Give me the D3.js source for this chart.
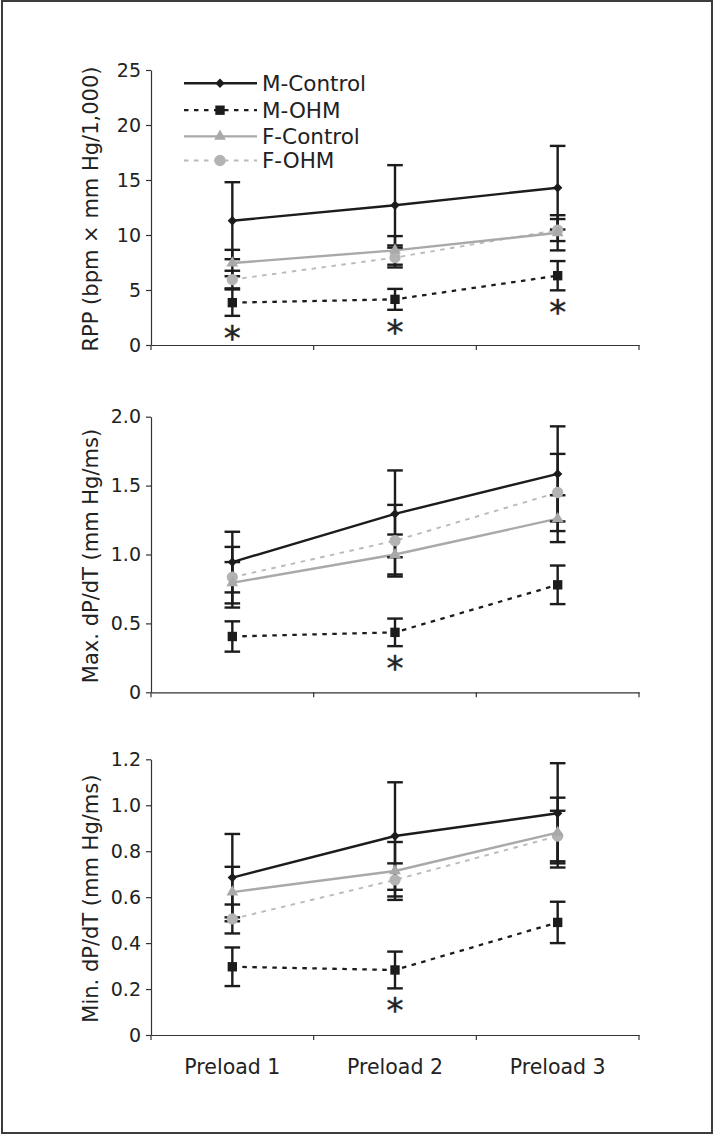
<!DOCTYPE html>
<html><head><meta charset="utf-8">
<script src="https://cdn.jsdelivr.net/npm/d3@7"></script>
<style>html,body{margin:0;padding:0;background:#fff}svg{display:block}</style>
</head><body>
<svg id="chart" width="714" height="1135"></svg>
<script>
// ---------------- DATA ----------------
const categories = ["Preload 1", "Preload 2", "Preload 3"];
const seriesNames = ["M-Control", "M-OHM", "F-Control", "F-OHM"];

// Panel 1: RPP (bpm x mm Hg/1,000)
const rppMControl = [11.3, 12.7, 14.3];
const rppMControlErr = [3.5, 3.65, 3.8];
const rppMOHM = [3.85, 4.15, 6.3];
const rppMOHMErr = [1.2, 0.95, 1.33];
const rppFControl = [7.45, 8.6, 10.2];
const rppFControlErr = [1.2, 1.3, 1.6];
const rppFOHM = [5.95, 7.95, 10.45];
const rppFOHMErr = [0.8, 0.9, 1.0];
const rppSignificant = [true, true, true];
const rppTicks = [0, 5, 10, 15, 20, 25];
const rppTickLabels = ["0", "5", "10", "15", "20", "25"];

// Panel 2: Max. dP/dT (mm Hg/ms)
const maxMControl = [0.945, 1.295, 1.585];
const maxMControlErr = [0.22, 0.315, 0.345];
const maxMOHM = [0.405, 0.435, 0.78];
const maxMOHMErr = [0.11, 0.10, 0.14];
const maxFControl = [0.795, 1.0, 1.26];
const maxFControlErr = [0.15, 0.145, 0.17];
const maxFOHM = [0.835, 1.10, 1.45];
const maxFOHMErr = [0.22, 0.26, 0.28];
const maxSignificant = [false, true, false];
const maxTicks = [0, 0.5, 1.0, 1.5, 2.0];
const maxTickLabels = ["0", "0.5", "1.0", "1.5", "2.0"];

// Panel 3: Min. dP/dT (mm Hg/ms)
const minMControl = [0.685, 0.866, 0.965];
const minMControlErr = [0.19, 0.234, 0.218];
const minMOHM = [0.297, 0.283, 0.49];
const minMOHMErr = [0.084, 0.08, 0.09];
const minFControl = [0.622, 0.714, 0.881];
const minFControlErr = [0.11, 0.126, 0.152];
const minFOHM = [0.505, 0.675, 0.866];
const minFOHMErr = [0.063, 0.072, 0.11];
const minSignificant = [false, true, false];
const minTicks = [0, 0.2, 0.4, 0.6, 0.8, 1.0, 1.2];
const minTickLabels = ["0", "0.2", "0.4", "0.6", "0.8", "1.0", "1.2"];

const axisTitles = ["RPP (bpm \u00d7 mm Hg/1,000)", "Max. dP/dT (mm Hg/ms)", "Min. dP/dT (mm Hg/ms)"];

// ---------------- TABLES BUILT FROM DATA ----------------
const panelsData = [
  { title: axisTitles[0], ticks: rppTicks, labels: rppTickLabels, sig: rppSignificant,
    series: [[rppMControl, rppMControlErr], [rppMOHM, rppMOHMErr], [rppFControl, rppFControlErr], [rppFOHM, rppFOHMErr]] },
  { title: axisTitles[1], ticks: maxTicks, labels: maxTickLabels, sig: maxSignificant,
    series: [[maxMControl, maxMControlErr], [maxMOHM, maxMOHMErr], [maxFControl, maxFControlErr], [maxFOHM, maxFOHMErr]] },
  { title: axisTitles[2], ticks: minTicks, labels: minTickLabels, sig: minSignificant,
    series: [[minMControl, minMControlErr], [minMOHM, minMOHMErr], [minFControl, minFControlErr], [minFOHM, minFOHMErr]] }
];

// ---------------- LAYOUT / STYLE ----------------
const FONT = "'DejaVu Sans', sans-serif";
const INK = "#1c1c1c";
const AXIS = "#333";
const layout = [
  { top: 70, bottom: 345 },
  { top: 416.7, bottom: 692.3 },
  { top: 759.3, bottom: 1035 }
];
const styles = {
  "M-Control": { stroke: INK, width: 2.4, dash: null, symbol: "diamond", fill: INK },
  "M-OHM": { stroke: INK, width: 2.3, dash: "4.5,5.5", symbol: "square", fill: INK },
  "F-Control": { stroke: "#a9a9a9", width: 2.4, dash: null, symbol: "triangle", fill: "#a9a9a9" },
  "F-OHM": { stroke: "#bababa", width: 1.9, dash: "4.5,5.5", symbol: "circle", fill: "#b3b3b3" }
};
const symbolPath = {
  diamond: d3.symbol(d3.symbolSquare, 44)(),
  square: d3.symbol(d3.symbolSquare, 88)(),
  triangle: d3.symbol(d3.symbolTriangle, 60)(),
  circle: d3.symbol(d3.symbolCircle, 100)()
};
function markerTransform(sym, x, y) {
  return sym === "diamond" ? `translate(${x},${y}) rotate(45)` : `translate(${x},${y})`;
}

const svg = d3.select("#chart");
svg.append("rect").attr("x", 2).attr("y", 1).attr("width", 710).attr("height", 1132)
  .attr("fill", "#fff").attr("stroke", "#3c3c3c").attr("stroke-width", 2);

const x = d3.scaleBand().domain(categories).range([151, 639]).padding(0);
const cx = c => x(c) + x.bandwidth() / 2;

panelsData.forEach((p, pi) => {
  const L = layout[pi];
  const y = d3.scaleLinear().domain([0, d3.max(p.ticks)]).range([L.bottom, L.top]);
  const g = svg.append("g");

  // y axis
  const ya = g.append("g").attr("transform", `translate(${x.range()[0]},0)`)
    .call(d3.axisLeft(y).tickValues(p.ticks).tickSize(5).tickSizeOuter(0).tickPadding(5)
      .tickFormat((d, i) => p.labels[i]));
  ya.selectAll("path,line").attr("stroke", AXIS).attr("stroke-width", 1.2);
  ya.selectAll("text").attr("font-family", FONT).attr("font-size", 19).attr("fill", "#222");

  // x axis
  const xa = g.append("g").attr("transform", `translate(0,${L.bottom})`)
    .call(d3.axisBottom(x).tickSize(0).tickSizeOuter(0).tickFormat(""));
  xa.select("path").attr("stroke", AXIS).attr("stroke-width", 1.2);
  const bounds = [x.range()[0]].concat(categories.map(c => x(c) + x.bandwidth()));
  xa.selectAll("line.bnd").data(bounds).join("line").attr("class", "bnd")
    .attr("x1", d => d).attr("x2", d => d).attr("y1", 0).attr("y2", 5)
    .attr("stroke", AXIS).attr("stroke-width", 1.2);
  if (pi === 2) {
    xa.selectAll("text.cat").data(categories).join("text").attr("class", "cat")
      .attr("x", d => cx(d)).attr("y", 39).attr("text-anchor", "middle")
      .attr("font-family", FONT).attr("font-size", 20.5).attr("fill", "#222").text(d => d);
  }

  // y title
  g.append("text").attr("transform", `translate(98,${(L.top + L.bottom) / 2 + 1.5}) rotate(-90)`)
    .attr("text-anchor", "middle").attr("font-family", FONT).attr("font-size", 21)
    .attr("fill", "#222").text(p.title);

  const rows = p.series.map((s, si) => ({
    name: seriesNames[si],
    pts: categories.map((c, ci) => ({ c, v: s[0][ci], e: s[1][ci] }))
  }));
  const line = d3.line().x(d => cx(d.c)).y(d => y(d.v));

  // lines (grey first, black on top)
  [3, 2, 1, 0].forEach(si => {
    const st = styles[rows[si].name];
    g.append("path").datum(rows[si].pts).attr("d", line).attr("fill", "none")
      .attr("stroke", st.stroke).attr("stroke-width", st.width)
      .attr("stroke-dasharray", st.dash);
  });
  // error bars
  rows.forEach(r => {
    const eg = g.append("g").attr("stroke", INK).attr("stroke-width", 2.4);
    r.pts.forEach(d => {
      const X = cx(d.c), y1 = y(d.v + d.e), y2 = y(d.v - d.e);
      eg.append("line").attr("x1", X).attr("x2", X).attr("y1", y1).attr("y2", y2);
      eg.append("line").attr("x1", X - 7.8).attr("x2", X + 7.8).attr("y1", y1).attr("y2", y1);
      eg.append("line").attr("x1", X - 7.8).attr("x2", X + 7.8).attr("y1", y2).attr("y2", y2);
    });
  });
  // markers
  [3, 2, 1, 0].forEach(si => {
    const st = styles[rows[si].name];
    g.selectAll(null).data(rows[si].pts).join("path")
      .attr("d", symbolPath[st.symbol]).attr("fill", st.fill)
      .attr("transform", d => markerTransform(st.symbol, cx(d.c), y(d.v)));
  });
  // significance asterisks under M-OHM
  const mohm = rows[1].pts;
  g.selectAll("text.sig").data(mohm.filter((d, i) => p.sig[i])).join("text").attr("class", "sig")
    .attr("x", d => cx(d.c)).attr("y", d => y(d.v - d.e) + 34)
    .attr("text-anchor", "middle").attr("font-family", FONT).attr("font-size", 34)
    .attr("fill", "#222").attr("stroke", "#222").attr("stroke-width", 0.4).text("*");

  // legend in first panel
  if (pi === 0) {
    const rowsY = [83.3, 110.2, 136.4, 160.5];
    seriesNames.forEach((n, i) => {
      const st = styles[n];
      const lg = g.append("g");
      lg.append("line").attr("x1", 184).attr("x2", 257).attr("y1", rowsY[i]).attr("y2", rowsY[i])
        .attr("stroke", st.stroke).attr("stroke-width", st.width).attr("stroke-dasharray", st.dash);
      lg.append("path").attr("d", symbolPath[st.symbol]).attr("fill", st.fill)
        .attr("transform", markerTransform(st.symbol, 220, rowsY[i]));
      lg.append("text").attr("x", 262).attr("y", rowsY[i]).attr("dy", "0.36em")
        .attr("font-family", FONT).attr("font-size", 21.5).attr("fill", "#222").text(n);
    });
  }
});
</script>
</body></html>
